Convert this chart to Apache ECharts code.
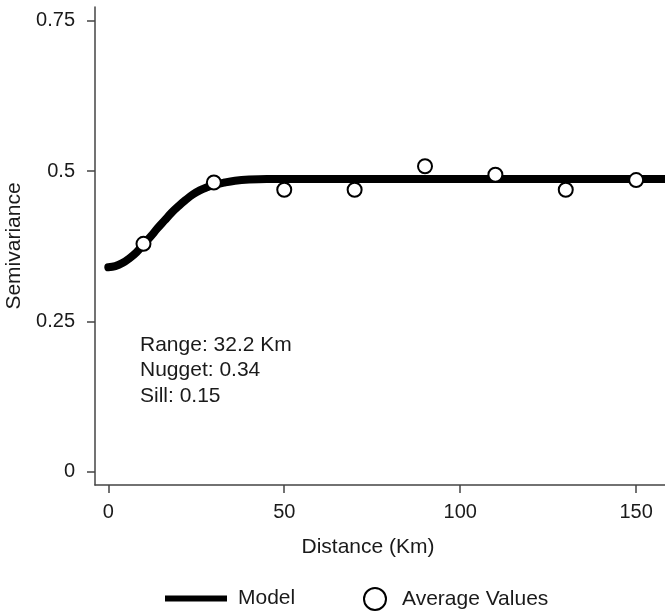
<!DOCTYPE html>
<html>
<head>
<meta charset="utf-8">
<script src="https://cdn.jsdelivr.net/npm/echarts@6/dist/echarts.min.js"></script>
<style>
  html, body { margin: 0; padding: 0; background: #fff; }
  #chart { width: 665px; height: 614px; }
</style>
</head>
<body>
<div id="chart"></div>
<script>
// fitted model curve
const modelDist = [0, 2, 4, 6, 8, 10, 12, 14, 16, 18, 20, 22, 24, 26, 28, 30, 33, 36, 40, 45, 50, 60, 80, 100, 120, 140, 158.2];
const modelGamma = [0.340, 0.342, 0.347, 0.355, 0.365, 0.378, 0.391, 0.405, 0.418, 0.431, 0.442, 0.452, 0.461, 0.468, 0.473, 0.477, 0.481, 0.484, 0.486, 0.487, 0.487, 0.487, 0.487, 0.487, 0.487, 0.487, 0.487];

// binned average semivariance
const avgDist = [10, 30, 50, 70, 90, 110, 130, 150];
const avgGamma = [0.379, 0.481, 0.469, 0.469, 0.508, 0.494, 0.469, 0.485];

const xTicks = [0, 50, 100, 150];
const yTicks = [0, 0.25, 0.5, 0.75];
const notes = ['Range: 32.2 Km', 'Nugget: 0.34', 'Sill: 0.15'];

const FONT = '"Liberation Sans", Arial, sans-serif';
const TXT = '#1a1a1a';
const AXIS = '#444';

const chart = echarts.init(document.getElementById('chart'));

chart.setOption({
  animation: false,
  textStyle: { fontFamily: FONT },
  grid: { left: 95, right: 0, top: 7, bottom: 129, containLabel: false, outerBoundsMode: 'none' },
  xAxis: {
    type: 'value',
    min: -3.78,
    max: 158.2,
    name: 'Distance (Km)',
    nameLocation: 'middle',
    nameGap: 52,
    nameTextStyle: { color: TXT, fontSize: 21, fontFamily: FONT, padding: [0, 24, 0, 0] },
    splitLine: { show: false },
    axisLine: { show: true, onZero: false, lineStyle: { color: AXIS, width: 1.5 } },
    axisTick: { show: true, length: 8, customValues: xTicks, lineStyle: { color: AXIS, width: 1.5 } },
    axisLabel: { customValues: xTicks, color: TXT, fontSize: 20, margin: 17, fontFamily: FONT }
  },
  yAxis: {
    type: 'value',
    min: -0.0219,
    max: 0.7728,
    name: 'Semivariance',
    nameLocation: 'middle',
    nameGap: 64,
    nameTextStyle: { color: TXT, fontSize: 21, fontFamily: FONT },
    splitLine: { show: false },
    axisLine: { show: true, onZero: false, lineStyle: { color: AXIS, width: 1.5 } },
    axisTick: { show: true, length: 8, customValues: yTicks, lineStyle: { color: AXIS, width: 1.5 } },
    axisLabel: { customValues: yTicks, color: TXT, fontSize: 20, margin: 20, fontFamily: FONT }
  },
  legend: [
    {
      data: [{ name: 'Model', icon: 'rect' }],
      left: 165, top: 588, padding: 0,
      itemWidth: 62, itemHeight: 6,
      itemStyle: { color: '#000' },
      textStyle: { color: TXT, fontSize: 21, fontFamily: FONT, padding: [0, 0, 0, 6] }
    },
    {
      data: [{ name: 'Average Values', icon: 'circle' }],
      left: 363, top: 587, padding: 0,
      itemWidth: 22, itemHeight: 22,
      itemStyle: { color: '#fff', borderColor: '#000', borderWidth: 2 },
      textStyle: { color: TXT, fontSize: 21, fontFamily: FONT, padding: [0, 0, 0, 11] }
    }
  ],
  graphic: [{
    type: 'text',
    left: 140,
    top: 332,
    style: {
      text: notes.join('\n'),
      fill: TXT,
      font: '21px ' + FONT,
      lineHeight: 25.5
    }
  }],
  series: [
    {
      name: 'Model',
      type: 'line',
      data: modelDist.map((d, i) => [d, modelGamma[i]]),
      smooth: 0.4,
      showSymbol: false,
      symbol: 'none',
      lineStyle: { color: '#000', width: 8, cap: 'round', join: 'round' },
      z: 2
    },
    {
      name: 'Average Values',
      type: 'scatter',
      data: avgDist.map((d, i) => [d, avgGamma[i]]),
      symbol: 'circle',
      symbolSize: 14,
      itemStyle: { color: '#fff', borderColor: '#000', borderWidth: 2, opacity: 1 },
      z: 3
    }
  ]
});
</script>
</body>
</html>
